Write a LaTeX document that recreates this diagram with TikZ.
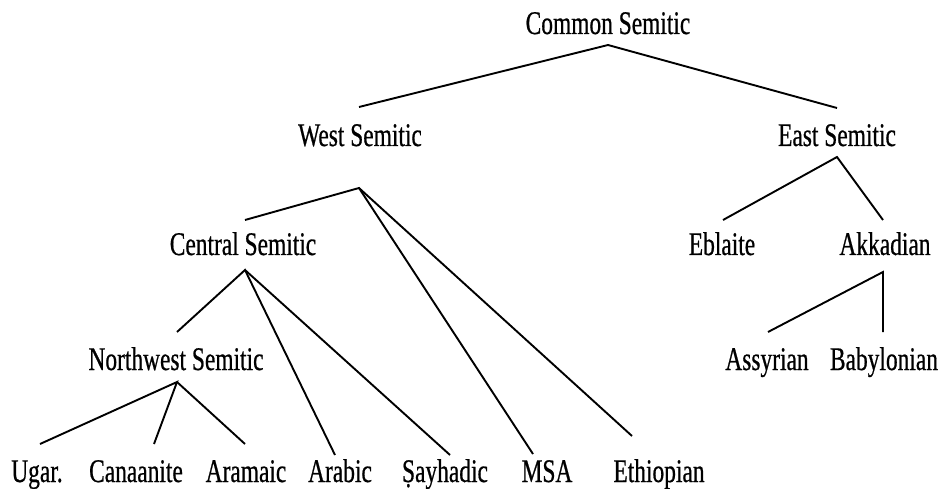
\documentclass[tikz,border=0pt]{standalone}
\usepackage{fontspec}
\setmainfont{Liberation Serif}[FakeStretch=0.71,FakeBold=0.6]
\begin{document}
\begin{tikzpicture}[x=1pt,y=-1pt,
  lbl/.style={anchor=base,inner sep=0pt,font=\fontsize{33}{33}\selectfont},
  edge/.style={line width=1.9pt,line join=miter}]
\useasboundingbox (0,0) rectangle (943,489);
% labels
\node[lbl] (common) at (608,34) {Common Semitic};
\node[lbl] (west) at (360,146) {West Semitic};
\node[lbl] (east) at (837,146) {East Semitic};
\node[lbl] (central) at (243,255) {Central Semitic};
\node[lbl] (ebla) at (722,255) {Eblaite};
\node[lbl] (akk) at (885,255) {Akkadian};
\node[lbl] (nw) at (176,370) {Northwest Semitic};
\node[lbl] (assy) at (767,370) {Assyrian};
\node[lbl] (baby) at (884,370) {Babylonian};
\node[lbl] (ugar) at (37,482) {Ugar.};
\node[lbl] (cana) at (136,482) {Canaanite};
\node[lbl] (aram) at (246,482) {Aramaic};
\node[lbl] (arab) at (340,482) {Arabic};
\node[lbl] (sayh) at (445,482) {Ṣayhadic};
\node[lbl] (msa) at (547,482) {MSA};
\node[lbl] (ethi) at (659,482) {Ethiopian};
% branch points and line ends
\coordinate (common-b) at (608,45);
\coordinate (west-t) at (359,107);
\coordinate (east-t) at (837,108);
\coordinate (west-b) at (359,188);
\coordinate (central-t) at (245,220);
\coordinate (msa-t) at (533,454);
\coordinate (ethi-t) at (632,436);
\coordinate (central-b) at (245,270);
\coordinate (nw-t) at (177,332);
\coordinate (arab-t) at (335,455);
\coordinate (sayh-t) at (450,455);
\coordinate (nw-b) at (177,382);
\coordinate (ugar-t) at (40,444);
\coordinate (cana-t) at (154,444);
\coordinate (aram-t) at (245,444);
\coordinate (east-b) at (837,157);
\coordinate (ebla-t) at (723,220);
\coordinate (akk-t) at (883,220);
\coordinate (akk-b) at (883,272);
\coordinate (assy-t) at (768,332);
\coordinate (baby-t) at (883,332);
% connectors
\draw[edge] (west-t) -- (common-b) -- (east-t);
\draw[edge] (central-t) -- (west-b) -- (msa-t);
\draw[edge] (west-b) -- (ethi-t);
\draw[edge] (nw-t) -- (central-b) -- (arab-t);
\draw[edge] (central-b) -- (sayh-t);
\draw[edge] (ugar-t) -- (nw-b) -- (cana-t);
\draw[edge] (nw-b) -- (aram-t);
\draw[edge] (ebla-t) -- (east-b) -- (akk-t);
\draw[edge] (assy-t) -- (akk-b) -- (baby-t);
\end{tikzpicture}
\end{document}
